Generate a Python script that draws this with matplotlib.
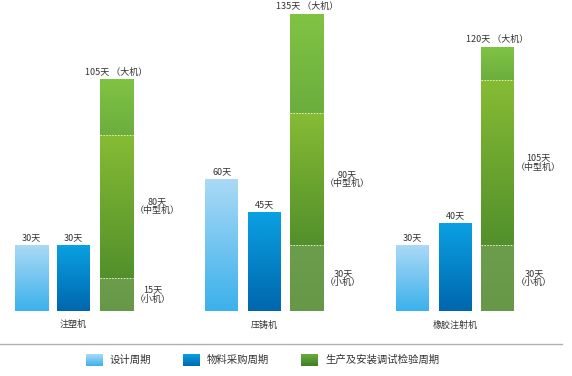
import matplotlib
matplotlib.use("Agg")
import matplotlib.pyplot as plt
import numpy as np
from matplotlib.colors import LinearSegmentedColormap

plt.rcParams['font.family'] = ['Noto Sans CJK SC', 'DejaVu Sans']

# data
groups = ['注塑机', '压铸机', '橡胶注射机']
design = [30, 60, 30]
purchase = [30, 45, 40]
prod_small = [15, 30, 30]
prod_mid = [80, 90, 105]
prod_big = [105, 135, 120]
legend_names = ['设计周期', '物料采购周期', '生产及安装调试检验周期']

txt_c = '#333333'
fs = 6.5

fig = plt.figure(figsize=(5.72, 3.76), dpi=100)
W, H = 572.0, 376.0
base_px = 311.0
px_day = 2.2
ymax = 140
ax = fig.add_axes([0, (H - base_px) / H, 1, ymax * px_day / H])

unit = 190.75
x_left = -73.5 / unit
x_right = (W - 73.5) / unit
bw = 33 / unit
off = 42.5 / unit


def grad_bar(x, y0, y1, c_top, c_bot):
    cmap = LinearSegmentedColormap.from_list('g', [c_bot, c_top])
    g = np.linspace(0, 1, 64).reshape(-1, 1)
    ax.imshow(g, extent=[x - bw / 2, x + bw / 2, y0, y1], origin='lower',
              cmap=cmap, aspect='auto', interpolation='bilinear', zorder=2)


for i, name in enumerate(groups):
    x1, x2, x3 = i - off, i, i + off
    grad_bar(x1, 0, design[i], '#aad9f6', '#3cb1eb')
    grad_bar(x2, 0, purchase[i], '#0aa0e2', '#0067ae')
    ax.text(x1, design[i] + 1.5, '%d天' % design[i], ha='center', va='bottom',
            fontsize=fs, color=txt_c)
    ax.text(x2, purchase[i] + 1.5, '%d天' % purchase[i], ha='center', va='bottom',
            fontsize=fs, color=txt_c)

    # production bar: three stacked parts
    grad_bar(x3, 0, prod_small[i], '#6c9d4c', '#679848')
    grad_bar(x3, prod_small[i], prod_mid[i], '#86bb34', '#52902b')
    grad_bar(x3, prod_mid[i], prod_big[i], '#80c343', '#6cae3e')
    for yb in (prod_small[i], prod_mid[i]):
        ax.plot([x3 - bw / 2, x3 + bw / 2], [yb, yb], ls=(0, (1.5, 1.5)),
                color='#e8f3c8', lw=0.7, zorder=3)
    ax.text(x3, prod_big[i] + 1.5, '%d天 （大机）' % prod_big[i], ha='center',
            va='bottom', fontsize=fs, color=txt_c)
    ax.text(x3 + bw / 2 + 0.01, (prod_small[i] + prod_mid[i]) / 2,
            '%d天\n（中型机）' % prod_mid[i], ha='left', va='center',
            fontsize=fs, color=txt_c, linespacing=1.0, multialignment='center')
    ax.text(x3 + bw / 2 + 0.01, prod_small[i] / 2,
            '%d天\n（小机）' % prod_small[i], ha='left', va='center',
            fontsize=fs, color=txt_c, linespacing=1.0, multialignment='center')

    ax.text(i, -14 / px_day, name, ha='center', va='center', fontsize=fs,
            color=txt_c)

ax.set_xlim(x_left, x_right)
ax.set_ylim(0, ymax)
ax.axis('off')

# separator line
fig.add_artist(plt.Line2D([0, 562 / W], [1 - 344 / H, 1 - 344 / H],
                          color='#b0b0b0', lw=1.0))

# legend
leg_cols = [('#aad9f6', '#3cb1eb'), ('#0aa0e2', '#0067ae'), ('#6aab3e', '#3f7f27')]
leg_x = [86, 183, 301]
ly = 360
for (ct, cb), lx, name in zip(leg_cols, leg_x, legend_names):
    lax = fig.add_axes([lx / W, 1 - (ly + 6) / H, 17 / W, 12 / H])
    cmap = LinearSegmentedColormap.from_list('l', [cb, ct])
    lax.imshow(np.linspace(0, 1, 32).reshape(-1, 1), origin='lower', cmap=cmap,
               aspect='auto', interpolation='bilinear')
    lax.axis('off')
    fig.text((lx + 24) / W, 1 - ly / H, name, ha='left', va='center',
             fontsize=7.5, color=txt_c)

fig.savefig('out.png', dpi=100)
